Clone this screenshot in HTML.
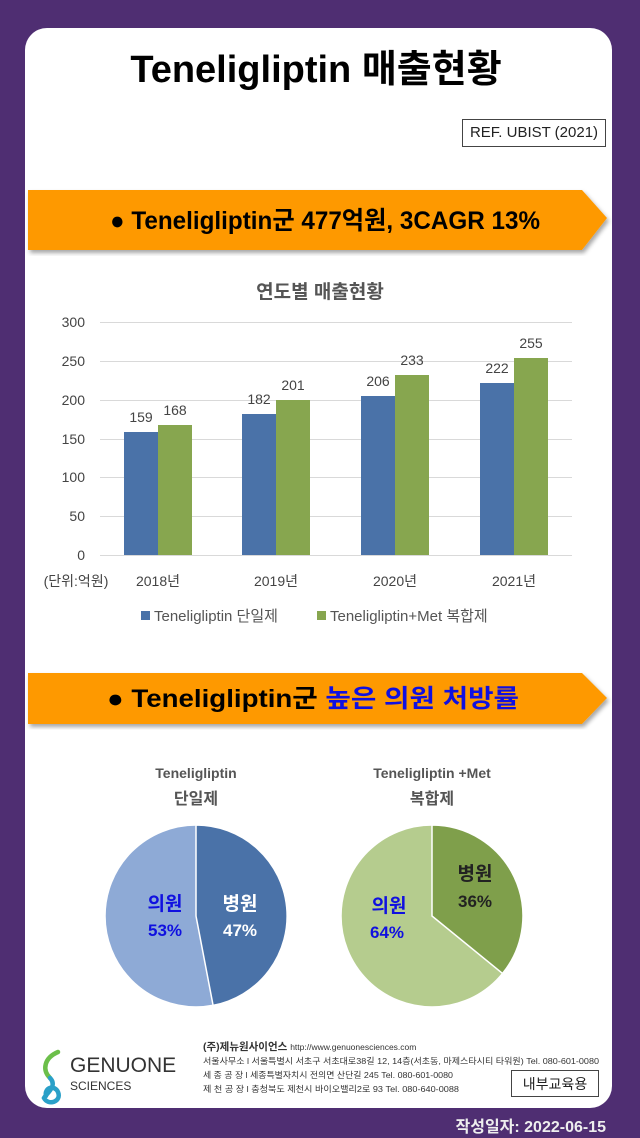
<!DOCTYPE html>
<html><head><meta charset="utf-8"><style>
body{margin:0;width:640px;height:1138px;background:#4f2e72;position:relative;overflow:hidden;font-family:"Liberation Sans","Noto Sans CJK KR",sans-serif}
.panel{position:absolute;left:25px;top:28px;width:587px;height:1080px;background:#fff;border-radius:22px}
.abs{position:absolute}
</style></head><body>
<div class="panel"></div>
<div class="abs" style="left:0;top:38px;width:632px;text-align:center;font-size:38px;font-weight:bold;color:#000">Teneligliptin 매출현황</div>
<div class="abs" style="left:462px;top:119px;width:142px;height:26px;border:1px solid #444;font-size:15px;line-height:26px;text-align:center;color:#222">REF. UBIST (2021)</div>
<svg class="abs" style="left:0;top:0" width="640" height="1138">
<defs><filter id="sh"><feDropShadow dx="2" dy="3" stdDeviation="2" flood-opacity="0.35"/></filter></defs>
<polygon points="28,190 582,190 607,218 582,250 28,250" fill="#fe9900" filter="url(#sh)"/>
<polygon points="28,673 582,673 607,698 582,724 28,724" fill="#fe9900" filter="url(#sh)"/>
<text x="325" y="229" text-anchor="middle" font-size="25" font-weight="bold" textLength="430" lengthAdjust="spacingAndGlyphs" font-family="Liberation Sans,Noto Sans CJK KR,sans-serif">● Teneligliptin군 477억원, 3CAGR 13%</text>
<text x="313" y="707" text-anchor="middle" font-size="25" font-weight="bold" textLength="412" lengthAdjust="spacingAndGlyphs" font-family="Liberation Sans,Noto Sans CJK KR,sans-serif">● Teneligliptin군 <tspan fill="#1010e0">높은 의원 처방률</tspan></text>
<text x="320" y="298" text-anchor="middle" font-size="19" font-weight="bold" fill="#555" font-family="Liberation Sans,Noto Sans CJK KR,sans-serif">연도별 매출현황</text>
<g stroke="#d9d9d9" stroke-width="1">
<line x1="100" x2="572" y1="322.5" y2="322.5"/><line x1="100" x2="572" y1="361.5" y2="361.5"/><line x1="100" x2="572" y1="400.5" y2="400.5"/><line x1="100" x2="572" y1="439.5" y2="439.5"/><line x1="100" x2="572" y1="477.5" y2="477.5"/><line x1="100" x2="572" y1="516.5" y2="516.5"/><line x1="100" x2="572" y1="555.5" y2="555.5"/>
</g>
<g font-size="14" fill="#444" text-anchor="end" font-family="Liberation Sans,sans-serif">
<text x="85" y="327">300</text><text x="85" y="366">250</text><text x="85" y="405">200</text><text x="85" y="444">150</text><text x="85" y="482">100</text><text x="85" y="521">50</text><text x="85" y="560">0</text>
</g>
<g fill="#4a72a8"><rect x="124" y="432" width="34" height="123"/><rect x="242" y="414" width="34" height="141"/><rect x="361" y="396" width="34" height="159"/><rect x="480" y="383" width="34" height="172"/></g>
<g fill="#87a64f"><rect x="158" y="425" width="34" height="130"/><rect x="276" y="400" width="34" height="155"/><rect x="395" y="375" width="34" height="180"/><rect x="514" y="358" width="34" height="197"/></g>
<g font-size="14" fill="#444" text-anchor="middle" font-family="Liberation Sans,sans-serif">
<text x="141" y="422">159</text><text x="175" y="415">168</text><text x="259" y="404">182</text><text x="293" y="390">201</text><text x="378" y="386">206</text><text x="412" y="365">233</text><text x="497" y="373">222</text><text x="531" y="348">255</text>
</g>
<g font-size="14" fill="#444" text-anchor="middle" font-family="Liberation Sans,Noto Sans CJK KR,sans-serif">
<text x="76" y="586">(단위:억원)</text><text x="158" y="586">2018년</text><text x="276" y="586">2019년</text><text x="395" y="586">2020년</text><text x="514" y="586">2021년</text>
</g>
<rect x="141" y="611" width="9" height="9" fill="#4a72a8"/><rect x="317" y="611" width="9" height="9" fill="#87a64f"/>
<g font-size="15" fill="#555" font-family="Liberation Sans,Noto Sans CJK KR,sans-serif">
<text x="154" y="621">Teneligliptin 단일제</text><text x="330" y="621">Teneligliptin+Met 복합제</text>
</g>
<g font-size="14" font-weight="bold" fill="#555" text-anchor="middle" font-family="Liberation Sans,Noto Sans CJK KR,sans-serif">
<text x="196" y="778">Teneligliptin</text><text x="196" y="804" font-size="16">단일제</text>
<text x="432" y="778">Teneligliptin +Met</text><text x="432" y="804" font-size="16">복합제</text>
</g>
<circle cx="196" cy="916" r="91" fill="#8eaad6" stroke="#fff" stroke-width="1.5"/>
<path d="M196,916 L196,825 A91,91 0 0 1 213.1,1005.4 Z" fill="#4a72a8" stroke="#fff" stroke-width="1.5"/>
<circle cx="432" cy="916" r="91" fill="#b5cc8e" stroke="#fff" stroke-width="1.5"/>
<path d="M432,916 L432,825 A91,91 0 0 1 502.5,973.5 Z" fill="#7f9f4b" stroke="#fff" stroke-width="1.5"/>
<g font-size="19" font-weight="bold" text-anchor="middle" font-family="Liberation Sans,Noto Sans CJK KR,sans-serif">
<text x="165" y="910" fill="#1010e0">의원</text><text x="165" y="936" font-size="17" fill="#1010e0">53%</text>
<text x="240" y="910" fill="#fff">병원</text><text x="240" y="936" font-size="17" fill="#fff">47%</text>
<text x="389" y="912" fill="#1010e0">의원</text><text x="387" y="938" font-size="17" fill="#1010e0">64%</text>
<text x="475" y="880" fill="#222">병원</text><text x="475" y="907" font-size="17" fill="#222">36%</text>
</g>
<g fill="none" stroke-width="4.5" stroke-linecap="round">
<path d="M58,1052 C44,1058 42,1070 50,1078" stroke="#6cbf4a"/>
<path d="M50,1078 C58,1086 46,1094 44,1098 C48,1106 62,1102 58,1092 C54,1084 44,1088 46,1096" stroke="#2aa0c8"/>
</g>
<text x="70" y="1072" font-size="21" fill="#333" font-family="Liberation Sans,sans-serif">GENUONE</text>
<text x="70" y="1090" font-size="12" fill="#333" font-family="Liberation Sans,sans-serif">SCIENCES</text>
<g font-family="Liberation Sans,Noto Sans CJK KR,sans-serif" fill="#333">
<text x="203" y="1050" font-size="10.5" font-weight="bold">(주)제뉴원사이언스 <tspan font-weight="normal" font-size="8.5">http://www.genuonesciences.com</tspan></text>
<text x="203" y="1064" font-size="8.3" textLength="396" lengthAdjust="spacingAndGlyphs">서울사무소 l 서울특별시 서초구 서초대로38길 12, 14층(서초동, 마제스타시티 타워원)  Tel. 080-601-0080</text>
<text x="203" y="1078" font-size="8.3" textLength="250" lengthAdjust="spacingAndGlyphs">세 종 공 장 l 세종특별자치시 전의면 산단길 245  Tel. 080-601-0080</text>
<text x="203" y="1092" font-size="8.3" textLength="256" lengthAdjust="spacingAndGlyphs">제 천 공 장 l 충청북도 제천시 바이오밸리2로 93  Tel. 080-640-0088</text>
</g>
<rect x="511.5" y="1070.5" width="87" height="26" fill="#fff" stroke="#444"/>
<text x="555" y="1089" font-size="14" text-anchor="middle" fill="#222" font-family="Liberation Sans,Noto Sans CJK KR,sans-serif">내부교육용</text>
<text x="606" y="1132" font-size="16" font-weight="bold" text-anchor="end" fill="#eee" font-family="Liberation Sans,Noto Sans CJK KR,sans-serif">작성일자: 2022-06-15</text>
</svg>
</body></html>
